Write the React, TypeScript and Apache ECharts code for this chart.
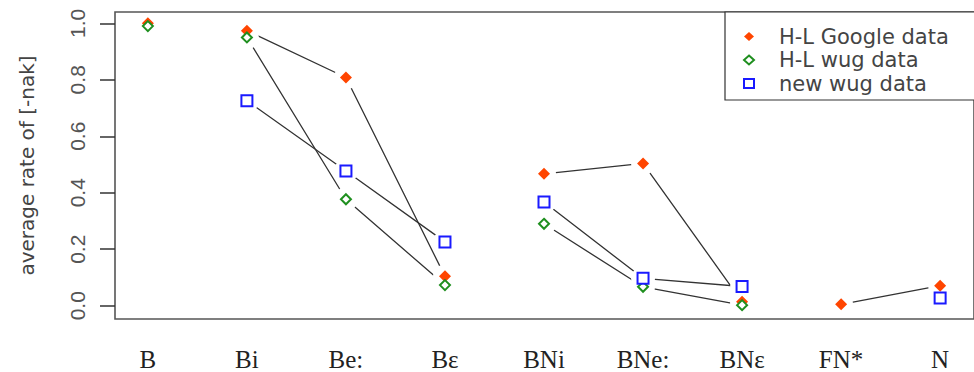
import React, { useEffect, useRef } from 'react';
import * as echarts from 'echarts';

const categories = ['B', 'Bi', 'Be:', 'Bɛ', 'BNi', 'BNe:', 'BNɛ', 'FN*', 'N'];
const googleData: (number | null)[] = [1.0, 0.974, 0.808, 0.104, 0.467, 0.504, 0.014, 0.005, 0.071];
const hlWugData: (number | null)[] = [0.99, 0.95, 0.377, 0.073, 0.29, 0.067, 0.002, null, null];
const newWugData: (number | null)[] = [null, 0.726, 0.477, 0.226, 0.367, 0.097, 0.068, null, 0.027];
const yTicks = [0, 0.2, 0.4, 0.6, 0.8, 1.0];
const xTicks = categories.map((_, i) => i + 1);
// indexes of categories whose points are joined by lines
const lineGroups = [[1, 2, 3], [4, 5, 6], [7, 8]];

const seriesNames = ['H-L Google data', 'H-L wug data', 'new wug data'];

function pointData(values: (number | null)[]) {
  const out: any[] = [];
  values.forEach((v, i) => {
    if (v != null) out.push([i + 1, v]);
  });
  return out;
}

function lineData(values: (number | null)[]) {
  const out: any[] = [];
  lineGroups.forEach((g) => {
    g.forEach((i) => {
      if (values[i] != null) out.push([i + 1, values[i]]);
    });
    out.push([null, null]);
  });
  return out;
}

export default function App() {
  const ref = useRef<HTMLDivElement>(null);
  useEffect(() => {
    if (!ref.current) return;
    const chart = echarts.init(ref.current, null, { renderer: 'svg' });
    const allValues = [googleData, hlWugData, newWugData];
    const lineSeries = allValues.map((vals, k) => ({
      type: 'line',
      name: 'line' + k,
      data: lineData(vals),
      showSymbol: false,
      symbol: 'none',
      connectNulls: false,
      silent: true,
      z: 1,
      lineStyle: { color: '#333', width: 1.3 },
    }));
    // white gaps around points that are joined by lines (like R's type = "b")
    const haloData: any[] = [];
    allValues.forEach((vals) =>
      lineData(vals).forEach((p) => {
        if (p[0] != null) haloData.push(p);
      })
    );
    const option: any = {
      animation: false,
      backgroundColor: '#fff',
      grid: {
        left: 115,
        top: 12,
        right: -3,
        bottom: 52,
        show: true,
        borderColor: '#555',
        borderWidth: 1.6,
        backgroundColor: 'transparent',
      },
      legend: {
        data: seriesNames,
        orient: 'vertical',
        left: 725,
        top: 12,
        padding: [14, 40, 6, 18],
        itemWidth: 10,
        itemHeight: 9,
        itemGap: 2.5,
        borderColor: '#333',
        borderWidth: 1.2,
        backgroundColor: '#fff',
        selectedMode: false,
        textStyle: {
          fontFamily: 'DejaVu Sans',
          fontSize: 21,
          lineHeight: 21,
          color: '#444',
          padding: [0, 0, 0, 20],
        },
      },
      xAxis: {
        type: 'value',
        min: 0.668,
        max: 9.342,
        axisLine: { show: false },
        axisTick: { show: false },
        splitLine: { show: false },
        axisLabel: {
          customValues: xTicks,
          formatter: (v: number) => categories[Math.round(v) - 1] ?? '',
          fontFamily: "'Liberation Serif', 'DejaVu Serif', serif",
          fontSize: 25,
          color: '#222',
          margin: 28,
        },
      },
      yAxis: {
        type: 'value',
        min: -0.047,
        max: 1.04,
        name: 'average rate of [-nak]',
        nameLocation: 'middle',
        nameGap: 78,
        nameTextStyle: { fontFamily: 'DejaVu Sans', fontSize: 20, color: '#444' },
        axisLine: { show: false },
        splitLine: { show: false },
        axisTick: {
          show: true,
          length: 15,
          customValues: yTicks,
          lineStyle: { color: '#333', width: 1.5 },
        },
        axisLabel: {
          customValues: yTicks,
          rotate: 90,
          margin: 27,
          formatter: (v: number) => v.toFixed(1),
          fontFamily: "'Liberation Sans', Arial, sans-serif",
          fontSize: 21,
          color: '#555',
        },
      },
      series: [
        ...lineSeries,
        {
          type: 'scatter',
          name: 'halo',
          data: haloData,
          symbol: 'circle',
          symbolSize: 24,
          silent: true,
          z: 4,
          itemStyle: { color: '#fff', opacity: 1 },
        },
        {
          type: 'scatter',
          name: seriesNames[0],
          data: pointData(googleData),
          symbol: 'diamond',
          symbolSize: 12,
          z: 6,
          itemStyle: { color: '#FF4500', opacity: 1 },
        },
        {
          type: 'scatter',
          name: seriesNames[1],
          data: pointData(hlWugData),
          symbol: 'diamond',
          symbolSize: 10,
          z: 6,
          itemStyle: { color: '#fff', borderColor: '#1F8F1F', borderWidth: 2, opacity: 1 },
        },
        {
          type: 'scatter',
          name: seriesNames[2],
          data: pointData(newWugData),
          symbol: 'rect',
          symbolSize: 11,
          z: 6,
          itemStyle: { color: '#fff', borderColor: '#1A1AFF', borderWidth: 2, opacity: 1 },
        },
      ],
    };
    chart.setOption(option);
    return () => chart.dispose();
  }, []);
  return (
    <div
      ref={ref}
      style={{ position: 'absolute', left: 0, top: 0, width: 974, height: 372, background: '#fff' }}
    />
  );
}
